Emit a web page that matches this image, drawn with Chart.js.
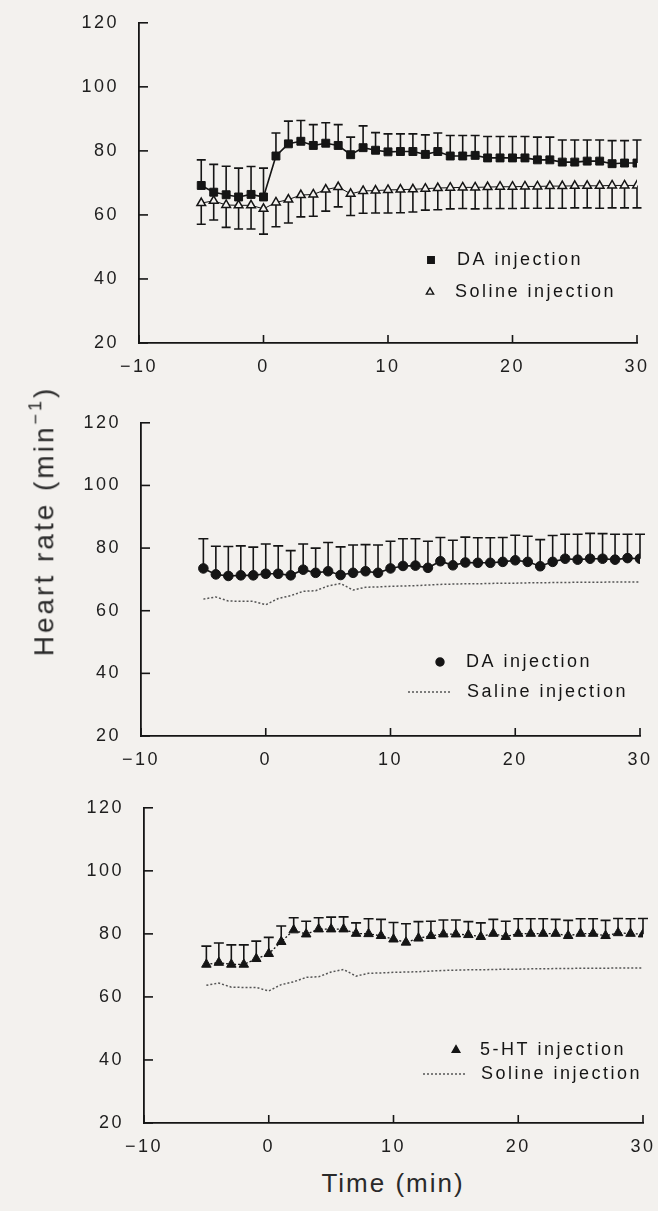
<!DOCTYPE html>
<html><head><meta charset="utf-8">
<script src="https://cdn.jsdelivr.net/npm/chart.js@4.4.1/dist/chart.umd.min.js"></script>
<style>
html,body{margin:0;padding:0;background:#f3f1ee;}
body{width:658px;height:1211px;position:relative;overflow:hidden;font-family:'Liberation Sans',Arial,sans-serif;}
canvas.pc{position:absolute;left:0;}
#ytitle{position:absolute;left:44px;top:521px;transform:translate(-50%,-50%) rotate(-90deg);font-size:28px;letter-spacing:3px;color:#2a2a2a;white-space:nowrap;}
#ytitle sup{font-size:18px;position:relative;top:-2px;}
#xtitle{position:absolute;left:393px;top:1183px;transform:translate(-50%,-50%);font-size:26px;letter-spacing:2px;color:#2a2a2a;white-space:nowrap;}
</style></head>
<body>
<canvas id="c1" class="pc" width="658" height="380" style="top:0px"></canvas>
<canvas id="c2" class="pc" width="658" height="380" style="top:400px"></canvas>
<canvas id="c3" class="pc" width="658" height="380" style="top:785px"></canvas>
<div id="ytitle">Heart rate (min<sup>−1</sup>)</div>
<div id="xtitle">Time (min)</div>
<script>
// ---------- data ----------
const minutes = [-5,-4,-3,-2,-1,0,1,2,3,4,5,6,7,8,9,10,11,12,13,14,15,16,17,18,19,20,21,22,23,24,25,26,27,28,29,30];
const xTickValues = [-10,0,10,20,30];
const yTickValues = [20,40,60,80,100,120];

const salineHR = [63.7,64.4,63.1,63.0,63.0,61.9,63.9,64.8,66.2,66.4,67.9,68.7,66.6,67.5,67.6,67.8,67.9,68.0,68.2,68.4,68.5,68.6,68.6,68.7,68.8,68.8,68.9,68.9,69.0,69.0,69.1,69.1,69.1,69.2,69.2,69.2];
const salineSEM = [6.6,6.0,7.0,7.4,7.4,7.9,7.6,7.3,6.8,6.8,6.7,6.2,6.8,7.0,7.0,7.2,7.2,7.1,6.7,6.8,6.6,6.6,6.7,6.7,6.8,6.8,6.8,6.8,6.9,6.9,6.9,6.9,7.0,7.0,7.0,7.0];

const daHR1 = [69.2,67.1,66.3,65.6,66.4,65.6,78.4,82.2,83.0,81.7,82.4,81.7,78.8,81.0,80.2,79.7,79.8,79.8,78.9,79.8,78.4,78.4,78.6,77.8,77.8,77.8,77.8,77.2,77.2,76.5,76.5,76.8,76.8,76.0,76.2,76.2];
const daSEM1 = [8.0,8.7,8.9,9.0,8.7,9.0,7.2,7.1,6.5,6.5,6.4,6.5,5.5,6.8,5.5,5.6,5.5,5.5,6.1,5.8,6.4,6.4,6.2,6.7,6.7,6.7,6.7,7.1,7.1,6.9,6.9,6.6,6.6,7.2,7.0,7.2];

const daHR2 = [73.5,71.6,71.1,71.3,71.3,71.8,71.8,71.3,73.1,72.1,72.6,71.4,72.1,72.6,72.1,73.5,74.3,74.4,73.7,75.8,74.5,75.4,75.3,75.3,75.6,76.1,75.6,74.2,75.6,76.6,76.3,76.6,76.6,76.3,76.8,76.6];
const daSEM2 = [9.5,9.0,9.4,9.4,9.0,9.5,8.9,7.9,8.2,7.9,9.2,9.0,8.9,8.5,8.9,8.7,8.7,8.6,8.5,7.6,8.0,8.1,8.0,8.0,7.8,8.0,8.2,8.5,8.4,7.8,8.1,8.1,8.0,8.1,7.6,7.8];

const htHR = [70.3,70.9,70.3,70.3,72.1,73.7,77.5,81.2,79.9,81.5,81.5,81.5,80.1,80.0,79.4,78.3,77.3,78.6,79.4,79.9,79.9,79.7,79.1,80.1,79.1,80.1,80.1,80.1,80.1,79.4,80.1,80.1,79.4,80.3,80.1,79.9];
const htSEM = [5.8,6.2,6.2,6.2,5.6,5.2,5.0,3.9,4.1,3.6,3.8,3.9,3.4,4.8,5.2,5.3,5.9,5.3,4.6,4.5,4.5,4.2,4.4,4.5,4.9,4.7,4.7,4.7,4.5,4.9,4.7,4.7,4.9,4.6,4.7,5.0];

// ---------- helpers ----------
const BG = '#f3f1ee';
const INK = '#151515';
const pts = arr => minutes.map((m,i)=>({x:m,y:arr[i]}));
const fmtMinus = v => v < 0 ? '\u2212' + Math.abs(v) : String(v);

const errorBars = {
  id:'errorBars',
  beforeDatasetsDraw(chart){
    const {ctx, scales:{x,y}} = chart;
    chart.data.datasets.forEach(ds=>{
      if(!ds.errors) return;
      ctx.save();
      ctx.strokeStyle = INK; ctx.lineWidth = 1.6; ctx.setLineDash([]);
      ds.data.forEach((p,j)=>{
        const px = x.getPixelForValue(p.x);
        const py = y.getPixelForValue(p.y);
        const pe = y.getPixelForValue(p.y + ds.errDir*ds.errors[j]);
        ctx.beginPath();
        ctx.moveTo(px,py); ctx.lineTo(px,pe);
        ctx.moveTo(px-ds.capHalf,pe); ctx.lineTo(px+ds.capHalf,pe);
        ctx.stroke();
      });
      ctx.restore();
    });
  }
};

const inwardTicks = {
  id:'inwardTicks',
  beforeDraw(chart){ chart.ctx.letterSpacing = '2.5px'; },
  afterDraw(chart){
    const {ctx, scales:{x,y}, chartArea:a} = chart;
    ctx.save();
    ctx.strokeStyle = INK; ctx.lineWidth = 1.6;
    xTickValues.forEach(v=>{
      const px = x.getPixelForValue(v);
      ctx.beginPath(); ctx.moveTo(px,a.bottom); ctx.lineTo(px,a.bottom-8); ctx.stroke();
    });
    yTickValues.forEach(v=>{
      const py = y.getPixelForValue(v);
      ctx.beginPath(); ctx.moveTo(a.left,py); ctx.lineTo(a.left+9,py); ctx.stroke();
    });
    ctx.restore();
  }
};

const customLegend = {
  id:'customLegend',
  afterDraw(chart, args, opts){
    const ctx = chart.ctx;
    ctx.save();
    ctx.font = '18px "Liberation Sans", Arial, sans-serif';
    ctx.letterSpacing = '2.5px';
    ctx.textBaseline = 'middle'; ctx.textAlign = 'left';
    (opts.items||[]).forEach(it=>{
      const ds = chart.data.datasets[it.ds];
      if(it.kind === 'marker'){
        ctx.fillStyle = ds.pointBackgroundColor; ctx.strokeStyle = ds.pointBorderColor; ctx.lineWidth = 1.4;
        ctx.beginPath();
        Chart.helpers.drawPoint(ctx, {pointStyle: ds.pointStyle, radius: it.r, borderWidth: 1.4}, it.mx, it.y);
      } else {
        ctx.strokeStyle = ds.borderColor; ctx.lineWidth = ds.borderWidth; ctx.setLineDash(ds.borderDash||[]);
        ctx.beginPath(); ctx.moveTo(it.x1, it.y); ctx.lineTo(it.x2, it.y); ctx.stroke();
        ctx.setLineDash([]);
      }
      ctx.fillStyle = INK;
      ctx.fillText(ds.label, it.tx, it.y);
    });
    ctx.restore();
  }
};

function makeOptions(pad, yWidth, xHeight, legendItems){
  const tickFont = {family:'"Liberation Sans", Arial, sans-serif', size:18};
  return {
    responsive:false, animation:false, devicePixelRatio:1,
    layout:{padding:{top:pad.top, right:pad.right, left:0, bottom:0}},
    plugins:{legend:{display:false}, tooltip:{enabled:false}, customLegend:{items:legendItems}},
    scales:{
      x:{type:'linear', min:-10, max:30,
        afterBuildTicks: s => { s.ticks = xTickValues.map(v=>({value:v})); },
        afterFit: s => { s.height = xHeight; s.paddingLeft = 0; s.paddingRight = 0; },
        grid:{display:false}, border:{display:true, color:INK, width:1.8},
        ticks:{font:tickFont, color:'#1e1e1e', padding:5, maxRotation:0, callback: v => fmtMinus(v)}},
      y:{type:'linear', min:20, max:120,
        afterBuildTicks: s => { s.ticks = yTickValues.map(v=>({value:v})); },
        afterFit: s => { s.width = yWidth; },
        grid:{display:false}, border:{display:true, color:INK, width:1.8},
        ticks:{font:tickFont, color:'#1e1e1e', padding:12}}
    }
  };
}

// ---------- panel 1 ----------
new Chart(document.getElementById('c1'), {
  type:'line',
  data:{datasets:[
    {label:'Soline injection', data:pts(salineHR), errors:salineSEM, errDir:-1, capHalf:4.5,
     borderColor:INK, borderWidth:1, pointStyle:'triangle', pointRadius:5, pointBorderWidth:1.5,
     pointBackgroundColor:BG, pointBorderColor:INK, tension:0},
    {label:'DA injection', data:pts(daHR1), errors:daSEM1, errDir:1, capHalf:4.5,
     borderColor:INK, borderWidth:1.6, pointStyle:'rect', pointRadius:5.6, pointBorderWidth:1,
     pointBackgroundColor:INK, pointBorderColor:INK, tension:0}
  ]},
  options: makeOptions({top:22,right:21}, 139, 37, [
    {ds:1, kind:'marker', r:4.6, mx:431, tx:457, y:260},
    {ds:0, kind:'marker', r:4.2, mx:430, tx:455, y:292}
  ]),
  plugins:[errorBars, inwardTicks, customLegend]
});

// ---------- panel 2 ----------
new Chart(document.getElementById('c2'), {
  type:'line',
  data:{datasets:[
    {label:'Saline injection', data:pts(salineHR), borderColor:'#555', borderWidth:1.5, borderDash:[2,2],
     pointRadius:0, tension:0},
    {label:'DA injection', data:pts(daHR2), errors:daSEM2, errDir:1, capHalf:5,
     borderColor:INK, borderWidth:1.6, pointStyle:'circle', pointRadius:4.8, pointBorderWidth:1,
     pointBackgroundColor:INK, pointBorderColor:INK, tension:0}
  ]},
  options: makeOptions({top:15,right:18}, 141, 44, [
    {ds:1, kind:'marker', r:4, mx:440, tx:466, y:262},
    {ds:0, kind:'line', x1:408, x2:452, tx:467, y:292}
  ]),
  plugins:[errorBars, inwardTicks, customLegend]
});

// ---------- panel 3 ----------
new Chart(document.getElementById('c3'), {
  type:'line',
  data:{datasets:[
    {label:'Soline injection', data:pts(salineHR), borderColor:'#555', borderWidth:1.5, borderDash:[2,2],
     pointRadius:0, tension:0},
    {label:'5-HT injection', data:pts(htHR), errors:htSEM, errDir:1, capHalf:5,
     borderColor:INK, borderWidth:1.3, borderDash:[2,2], pointStyle:'triangle', pointRadius:5.5, pointBorderWidth:1,
     pointBackgroundColor:INK, pointBorderColor:INK, tension:0}
  ]},
  options: makeOptions({top:16,right:15}, 144, 42, [
    {ds:1, kind:'marker', r:4.4, mx:456, tx:480, y:265},
    {ds:0, kind:'line', x1:423, x2:466, tx:481, y:289}
  ]),
  plugins:[errorBars, inwardTicks, customLegend]
});
</script>
</body></html>
